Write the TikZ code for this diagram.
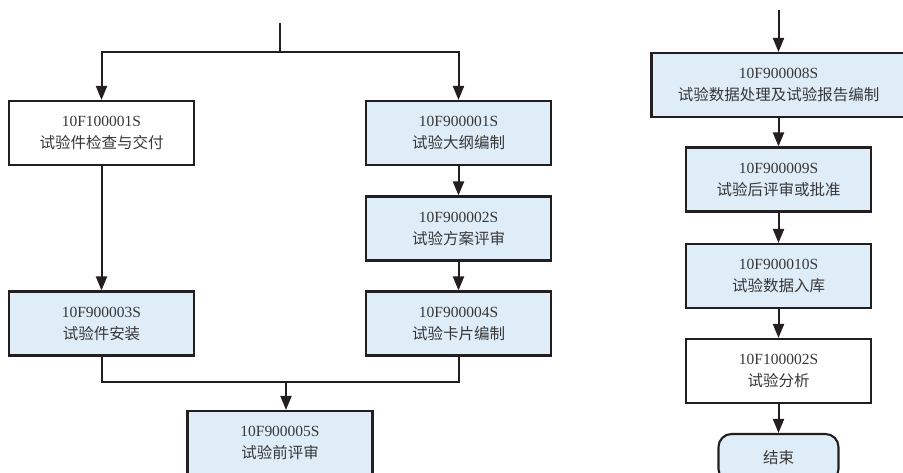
\documentclass[tikz,border=0pt]{standalone}
\usepackage{fontspec}
\setmainfont{Liberation Serif}
\newfontfamily\cjk{Noto Sans CJK SC}
\usetikzlibrary{arrows.meta}
\definecolor{boxblue}{RGB}{223,237,249}
\definecolor{ink}{RGB}{35,31,32}
\definecolor{txt}{RGB}{55,55,55}
\newcommand\boxtext[2]{#1\\{\cjk\fontsize{15.5}{22}\selectfont #2}}
\begin{document}
\begin{tikzpicture}[x=1pt,y=-1pt,
  box/.style={draw=ink,line width=2.1pt,minimum width=185pt,minimum height=64pt,inner sep=0pt,align=center,text=txt,font=\fontsize{15.5}{22}\selectfont},
  bluebox/.style={box,fill=boxblue},
  whitebox/.style={box,fill=white},
  arr/.style={draw=ink,line width=2pt,-{Triangle[length=14pt,width=11pt]}},
  ln/.style={draw=ink,line width=2pt}]
\path[use as bounding box] (0,0) rectangle (903,472);
\clip (0,0) rectangle (903,472);

% left part
\node[whitebox] (b1) at (101.5,133) {\boxtext{10F100001S}{试验件检查与交付}};
\node[bluebox]  (b2) at (458.5,133) {\boxtext{10F900001S}{试验大纲编制}};
\node[bluebox]  (b3) at (458.5,228.5) {\boxtext{10F900002S}{试验方案评审}};
\node[bluebox]  (b4) at (458.5,323.5) {\boxtext{10F900004S}{试验卡片编制}};
\node[bluebox]  (b6) at (101.5,323.5) {\boxtext{10F900003S}{试验件安装}};
\node[bluebox]  (b5) at (280,443) {\boxtext{10F900005S}{试验前评审}};

\coordinate (start) at (280,23);
\coordinate (split) at (280,52);
\coordinate (merge) at (286,382);

\draw[ln] (start) -- (split);
\draw[arr] (split) -| (b1.north);
\draw[arr] (split) -| (b2.north);
\draw[arr] (b1.south) -- (b6.north);
\draw[arr] (b2.south) -- (b3.north);
\draw[arr] (b3.south) -- (b4.north);
\draw[ln] (b6.south) |- (merge) -| (b4.south);
\draw[arr] (merge) -- (merge |- b5.north);

% right part
\node[bluebox,minimum width=254pt] (r1) at (778.5,85) {\boxtext{10F900008S}{试验数据处理及试验报告编制}};
\node[bluebox]  (r2) at (778.5,179.5) {\boxtext{10F900009S}{试验后评审或批准}};
\node[bluebox]  (r3) at (778.5,276) {\boxtext{10F900010S}{试验数据入库}};
\node[whitebox] (r4) at (778.5,371) {\boxtext{10F100002S}{试验分析}};
\node[bluebox,rounded corners=13pt,minimum width=120pt,minimum height=48pt,font=\cjk\fontsize{15.5}{22}\selectfont] (e) at (778.5,458) {结束};

\coordinate (rstart) at (778.5,10);
\draw[arr] (rstart) -- (r1.north);
\draw[arr] (r1.south) -- (r2.north);
\draw[arr] (r2.south) -- (r3.north);
\draw[arr] (r3.south) -- (r4.north);
\draw[arr] (r4.south) -- (e.north);
\end{tikzpicture}
\end{document}
